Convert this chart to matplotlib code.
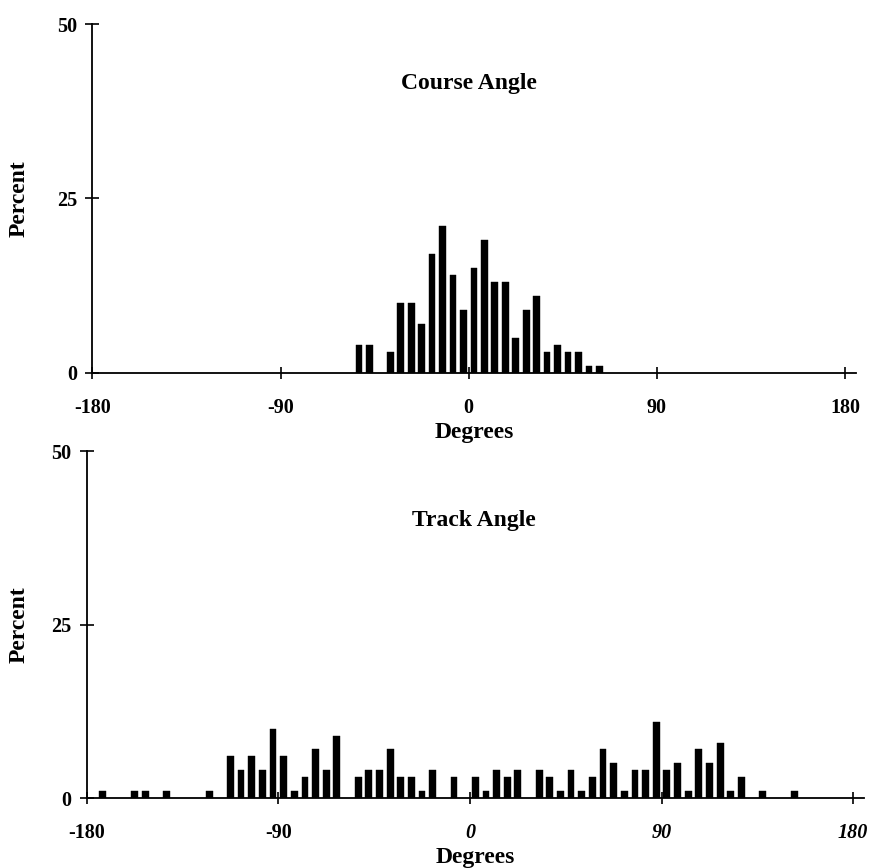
import matplotlib.pyplot as plt
import numpy as np

plt.rcParams['font.family'] = ['Liberation Serif', 'DejaVu Serif']
plt.rcParams['font.weight'] = 'bold'
plt.rcParams['axes.unicode_minus'] = False

####################
# course angle histogram (bin centres in degrees, percent)
course_deg = [-52.5, -47.5, -37.5, -32.5, -27.5, -22.5, -17.5, -12.5, -7.5, -2.5,
              2.5, 7.5, 12.5, 17.5, 22.5, 27.5, 32.5, 37.5, 42.5, 47.5, 52.5, 57.5, 62.5]
course_pct = [4, 4, 3, 10, 10, 7, 17, 21, 14, 9,
              15, 19, 13, 13, 5, 9, 11, 3, 4, 3, 3, 1, 1]

# track angle histogram
track_deg = [-172.5, -157.5, -152.5, -142.5, -122.5, -112.5, -107.5, -102.5, -97.5, -92.5,
             -87.5, -82.5, -77.5, -72.5, -67.5, -62.5, -52.5, -47.5, -42.5, -37.5,
             -32.5, -27.5, -22.5, -17.5, -7.5, 2.5, 7.5, 12.5, 17.5, 22.5,
             32.5, 37.5, 42.5, 47.5, 52.5, 57.5, 62.5, 67.5, 72.5, 77.5,
             82.5, 87.5, 92.5, 97.5, 102.5, 107.5, 112.5, 117.5, 122.5, 127.5,
             137.5, 152.5]
track_pct = [1, 1, 1, 1, 1, 6, 4, 6, 4, 10,
             6, 1, 3, 7, 4, 9, 3, 4, 4, 7,
             3, 3, 1, 4, 3, 3, 1, 4, 3, 4,
             4, 3, 1, 4, 1, 3, 7, 5, 1, 4,
             4, 11, 4, 5, 1, 7, 5, 8, 1, 3,
             1, 1]

x_ticks = [-180, -90, 0, 90, 180]
y_ticks = [0, 25, 50]
####################

fig = plt.figure(figsize=(8.76, 8.68), dpi=100)

ax1 = fig.add_axes([0.1054, 0.5708, 0.8712, 0.4012])
ax2 = fig.add_axes([0.0990, 0.0806, 0.8871, 0.3998])


def style_axis(ax, deg, pct, title, tx, ty, ylab_x):
    ax.bar(deg, pct, width=3.2, color='black', edgecolor='black', linewidth=0.3)
    ax.set_xlim(-180, 185)
    ax.set_ylim(0, 50)
    ax.spines['top'].set_visible(False)
    ax.spines['right'].set_visible(False)
    ax.spines['left'].set_linewidth(1.3)
    ax.spines['bottom'].set_linewidth(1.3)
    ax.set_xticks(x_ticks)
    ax.set_yticks(y_ticks)
    ax.tick_params(axis='x', direction='inout', length=8, width=1.2, pad=14, labelsize=14.5)
    ax.tick_params(axis='y', direction='inout', length=10, width=1.2, pad=6, labelsize=14.5)
    ax.set_xlabel('Degrees', fontsize=17, fontweight='bold', labelpad=3)
    ax.set_ylabel('Percent', fontsize=17, fontweight='bold')
    ax.yaxis.set_label_coords(ylab_x, 0.5)
    ax.text(tx, ty, title, ha='center', va='center', fontsize=17, fontweight='bold')
    for lab in ax.get_xticklabels() + ax.get_yticklabels():
        lab.set_fontweight('bold')


style_axis(ax1, course_deg, course_pct, 'Course Angle', 0, 41.5, -0.082)
style_axis(ax2, track_deg, track_pct, 'Track Angle', 2, 40.0, -0.073)

# lower panel uses italic numerals for 0, 90 and 180
for lab in ax2.get_xticklabels()[2:]:
    lab.set_style('italic')

plt.savefig('out.png', dpi=100)
